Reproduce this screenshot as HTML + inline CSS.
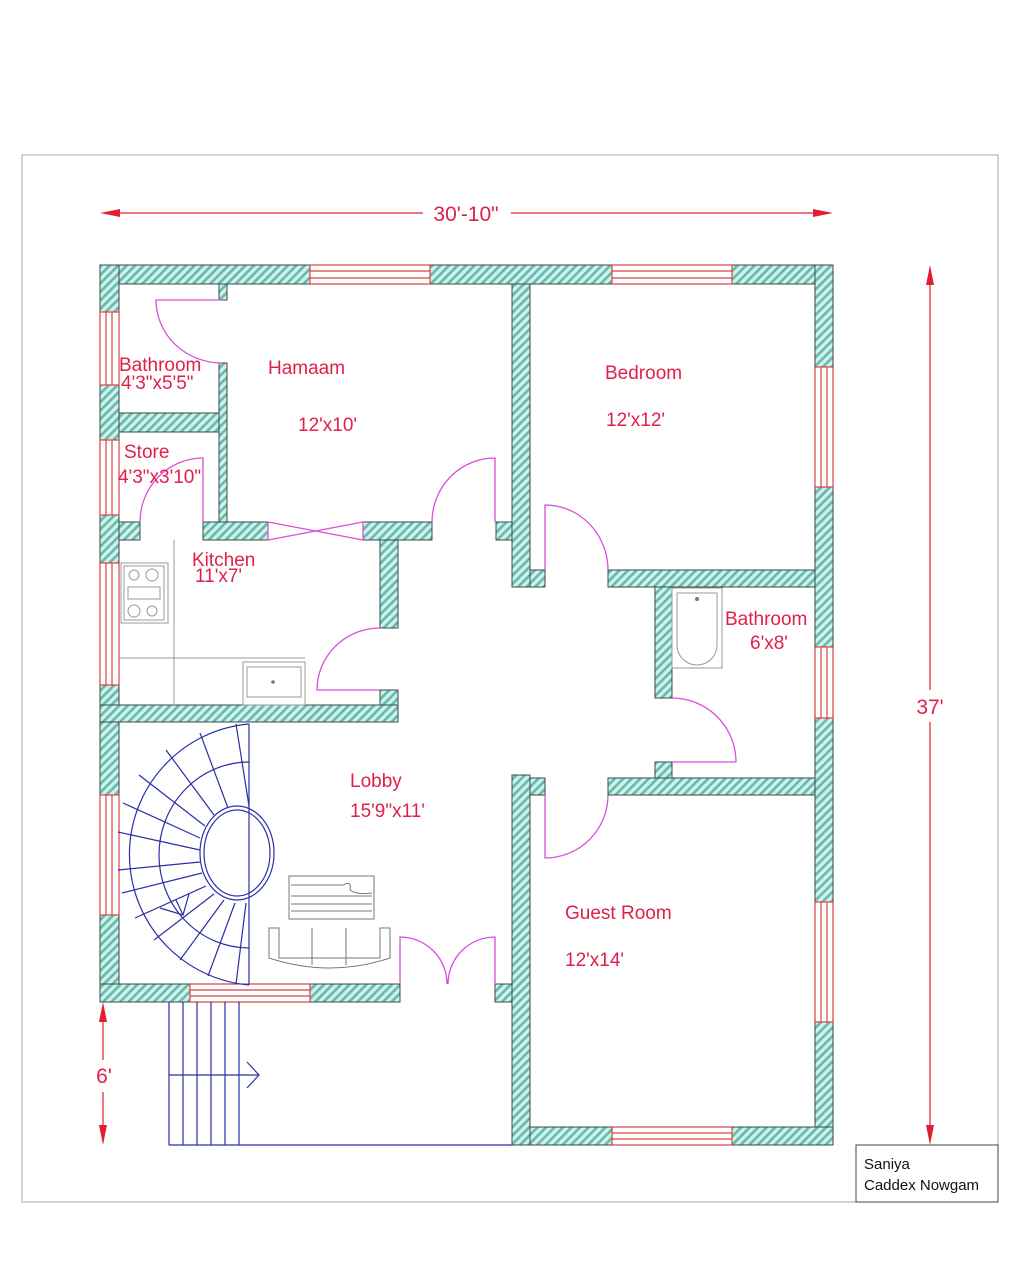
<!DOCTYPE html>
<html><head><meta charset="utf-8"><style>
html,body{margin:0;padding:0;background:#fff;}
svg{display:block;}
text{font-family:"Liberation Sans",sans-serif;}
</style></head><body>
<svg width="1021" height="1280" viewBox="0 0 1021 1280" xmlns="http://www.w3.org/2000/svg">
<defs>
<pattern id="h" width="6" height="6" patternUnits="userSpaceOnUse" patternTransform="rotate(45)">
<rect width="6" height="6" fill="#d4efea"/>
<rect width="2.6" height="6" fill="#5fbcae"/>
</pattern>
<marker id="ar" markerWidth="14" markerHeight="8" refX="13" refY="4" orient="auto" markerUnits="userSpaceOnUse">
<path d="M0,0 L14,4 L0,8 Z" fill="#e02030"/>
</marker>
</defs>
<rect x="0" y="0" width="1021" height="1280" fill="#fff"/>
<rect x="22" y="155" width="976" height="1047" fill="none" stroke="#aaa" stroke-width="1"/>

<!-- walls -->
<g fill="url(#h)" stroke="#3a4a48" stroke-width="1">
<!-- top -->
<rect x="100" y="265" width="210" height="19"/>
<rect x="430" y="265" width="182" height="19"/>
<rect x="732" y="265" width="101" height="19"/>
<!-- left -->
<rect x="100" y="265" width="19" height="47"/>
<rect x="100" y="385" width="19" height="55"/>
<rect x="100" y="515" width="19" height="48"/>
<rect x="100" y="685" width="19" height="110"/>
<rect x="100" y="915" width="19" height="87"/>
<!-- right -->
<rect x="815" y="265" width="18" height="102"/>
<rect x="815" y="487" width="18" height="160"/>
<rect x="815" y="718" width="18" height="184"/>
<rect x="815" y="1022" width="18" height="123"/>
<!-- bottom guest -->
<rect x="512" y="1127" width="100" height="18"/>
<rect x="732" y="1127" width="101" height="18"/>
<!-- lower left bottom -->
<rect x="100" y="984" width="90" height="18"/>
<rect x="310" y="984" width="90" height="18"/>
<rect x="495" y="984" width="17" height="18"/>
<!-- guest left wall -->
<rect x="512" y="775" width="18" height="370"/>
<!-- central wall -->
<rect x="512" y="284" width="18" height="303"/>
<rect x="496" y="522" width="16" height="18"/>
<!-- bedroom bottom -->
<rect x="530" y="570" width="15" height="17"/>
<rect x="608" y="570" width="207" height="17"/>
<!-- bath left -->
<rect x="655" y="587" width="17" height="111"/>
<rect x="655" y="762" width="17" height="16"/>
<!-- bath bottom -->
<rect x="608" y="778" width="207" height="17"/>
<rect x="530" y="778" width="15" height="17"/>
<!-- hamaam left -->
<rect x="219" y="284" width="8" height="16"/>
<rect x="219" y="363" width="8" height="159"/>
<!-- bath bottom left -->
<rect x="119" y="413" width="100" height="19"/>
<!-- kitchen top -->
<rect x="119" y="522" width="21" height="18"/>
<rect x="203" y="522" width="65" height="18"/>
<rect x="363" y="522" width="69" height="18"/>
<!-- kitchen right -->
<rect x="380" y="540" width="18" height="88"/>
<rect x="380" y="690" width="18" height="32"/>
<!-- kitchen bottom -->
<rect x="100" y="705" width="298" height="17"/>
</g>

<!-- windows -->
<g fill="#fff" stroke="#d84040" stroke-width="1.2">
<rect x="310" y="265" width="120" height="19"/><line x1="310" y1="271" x2="430" y2="271"/><line x1="310" y1="278" x2="430" y2="278"/>
<rect x="612" y="265" width="120" height="19"/><line x1="612" y1="271" x2="732" y2="271"/><line x1="612" y1="278" x2="732" y2="278"/>
<rect x="612" y="1127" width="120" height="18"/><line x1="612" y1="1133" x2="732" y2="1133"/><line x1="612" y1="1139" x2="732" y2="1139"/>
<rect x="190" y="984" width="120" height="18"/><line x1="190" y1="990" x2="310" y2="990"/><line x1="190" y1="996" x2="310" y2="996"/>
<rect x="100" y="312" width="19" height="73"/><line x1="106" y1="312" x2="106" y2="385"/><line x1="112" y1="312" x2="112" y2="385"/>
<rect x="100" y="440" width="19" height="75"/><line x1="106" y1="440" x2="106" y2="515"/><line x1="112" y1="440" x2="112" y2="515"/>
<rect x="100" y="563" width="19" height="122"/><line x1="106" y1="563" x2="106" y2="685"/><line x1="112" y1="563" x2="112" y2="685"/>
<rect x="100" y="795" width="19" height="120"/><line x1="106" y1="795" x2="106" y2="915"/><line x1="112" y1="795" x2="112" y2="915"/>
<rect x="815" y="367" width="18" height="120"/><line x1="821" y1="367" x2="821" y2="487"/><line x1="827" y1="367" x2="827" y2="487"/>
<rect x="815" y="647" width="18" height="71"/><line x1="821" y1="647" x2="821" y2="718"/><line x1="827" y1="647" x2="827" y2="718"/>
<rect x="815" y="902" width="18" height="120"/><line x1="821" y1="902" x2="821" y2="1022"/><line x1="827" y1="902" x2="827" y2="1022"/>
</g>

<!-- doors -->
<g fill="none" stroke="#d94fd9" stroke-width="1.3">
<path d="M222,300 L156,300 A66,63 0 0 0 222,363"/>
<path d="M203,522 L203,458 A63,64 0 0 0 140,522"/>
<path d="M495,522 L495,458 A63,64 0 0 0 432,522"/>
<path d="M268,522 L363,540 M268,540 L363,522"/>
<line x1="268" y1="522" x2="268" y2="540"/><line x1="363" y1="522" x2="363" y2="540"/>
<path d="M380,690 L317,690 A63,62 0 0 1 380,628"/>
<path d="M545,570 L545,505 A63,65 0 0 1 608,570"/>
<path d="M672,698 L672,698 M672,698 A64,64 0 0 1 736,762 L672,762"/>
<path d="M545,795 L545,858 A63,63 0 0 0 608,795"/>
<path d="M400,984 L400,937 A47,47 0 0 1 447,984"/>
<path d="M495,984 L495,937 A47,47 0 0 0 448,984"/>
</g>

<!-- kitchen fixtures -->
<g fill="none" stroke="#999" stroke-width="1">
<line x1="174" y1="540" x2="174" y2="705"/>
<line x1="119" y1="658" x2="305" y2="658"/>
<rect x="243" y="662" width="62" height="43"/>
<rect x="247" y="667" width="54" height="30"/>
<rect x="121" y="563" width="47" height="60"/>
<rect x="124" y="566" width="40" height="54"/>
<circle cx="134" cy="575" r="5"/><circle cx="152" cy="575" r="6"/>
<circle cx="134" cy="611" r="6"/><circle cx="152" cy="611" r="5"/>
<rect x="128" y="587" width="32" height="12"/>
<rect x="672" y="588" width="50" height="80"/>
<path d="M677,593 H717 V645 A20,20 0 0 1 677,645 Z"/>
</g>
<circle cx="273" cy="682" r="1.8" fill="#777"/>
<circle cx="697" cy="599" r="2" fill="#777"/>

<!-- lobby furniture -->
<g fill="none" stroke="#777" stroke-width="1">
<rect x="289" y="876" width="85" height="43"/>
<path d="M291,885 H343 Q352,880 350,890 Q356,895 372,893 M291,896 H372 M291,904 H372 M291,911 H372"/>
<path d="M269,928 H279 V958 H380 V928 H390 V958 Q330,978 269,958 Z"/>
<line x1="312" y1="928" x2="312" y2="965"/><line x1="346" y1="928" x2="346" y2="965"/>
</g>

<!-- spiral stair -->
<g fill="none" stroke="#2b2fa8" stroke-width="1.2">
<path d="M249,724 A131,131 0 0 0 249,985"/>
<line x1="249" y1="724" x2="249" y2="985"/>
<path d="M249,762 A90,93 0 0 0 249,948"/>
<ellipse cx="237" cy="853" rx="37" ry="47"/>
<ellipse cx="237" cy="853" rx="33" ry="43"/>
<g>
<line x1="236" y1="724" x2="249" y2="806"/>
<line x1="200" y1="733" x2="228" y2="808"/>
<line x1="166" y1="750" x2="214" y2="815"/>
<line x1="139" y1="775" x2="205" y2="826"/>
<line x1="123" y1="803" x2="200" y2="838"/>
<line x1="118" y1="832" x2="200" y2="850"/>
<line x1="118" y1="870" x2="200" y2="862"/>
<line x1="122" y1="893" x2="202" y2="873"/>
<line x1="135" y1="918" x2="206" y2="886"/>
<line x1="154" y1="940" x2="214" y2="894"/>
<line x1="180" y1="960" x2="224" y2="900"/>
<line x1="208" y1="976" x2="235" y2="903"/>
<line x1="236" y1="984" x2="246" y2="903"/>
</g>
<path d="M160,908 L183,915 L189,894 M183,915 L176,900"/>
</g>

<!-- entrance stairs -->
<g fill="none" stroke="#2b2fa8" stroke-width="1.2">
<line x1="169" y1="1002" x2="169" y2="1145"/>
<line x1="183" y1="1002" x2="183" y2="1145"/>
<line x1="197" y1="1002" x2="197" y2="1145"/>
<line x1="211" y1="1002" x2="211" y2="1145"/>
<line x1="225" y1="1002" x2="225" y2="1145"/>
<line x1="239" y1="1002" x2="239" y2="1145"/>
<line x1="169" y1="1145" x2="512" y2="1145"/>
<line x1="169" y1="1075" x2="259" y2="1075"/>
<path d="M247,1062 L259,1075 L247,1088"/>
</g>

<!-- dimensions -->
<g stroke="#e02030" stroke-width="1.2">
<line x1="114" y1="213" x2="423" y2="213"/><line x1="511" y1="213" x2="819" y2="213"/>
<line x1="930" y1="279" x2="930" y2="690"/><line x1="930" y1="722" x2="930" y2="1131"/>
<line x1="103" y1="1016" x2="103" y2="1060"/><line x1="103" y1="1092" x2="103" y2="1131"/>
</g>
<g fill="#e02030">
<path d="M100,213 L120,209 L120,217 Z"/><path d="M833,213 L813,209 L813,217 Z"/>
<path d="M930,265 L926,285 L934,285 Z"/><path d="M930,1145 L926,1125 L934,1125 Z"/>
<path d="M103,1002 L99,1022 L107,1022 Z"/><path d="M103,1145 L99,1125 L107,1125 Z"/>
</g>

<g fill="#e0204a" font-size="19">
<text x="466" y="221" text-anchor="middle" font-size="21">30'-10"</text>
<text x="930" y="714" text-anchor="middle" font-size="21">37'</text>
<text x="104" y="1083" text-anchor="middle" font-size="21">6'</text>
<text x="119" y="371">Bathroom</text>
<text x="121" y="389">4'3"x5'5"</text>
<text x="268" y="374">Hamaam</text>
<text x="298" y="431">12'x10'</text>
<text x="124" y="458">Store</text>
<text x="118" y="483">4'3"x3'10"</text>
<text x="192" y="566">Kitchen</text>
<text x="195" y="582">11'x7'</text>
<text x="605" y="379">Bedroom</text>
<text x="606" y="426">12'x12'</text>
<text x="725" y="625">Bathroom</text>
<text x="750" y="649">6'x8'</text>
<text x="350" y="787">Lobby</text>
<text x="350" y="817">15'9"x11'</text>
<text x="565" y="919">Guest Room</text>
<text x="565" y="966">12'x14'</text>
</g>

<rect x="856" y="1145" width="142" height="57" fill="#fff" stroke="#444" stroke-width="1"/>
<text x="864" y="1169" font-size="15" fill="#111">Saniya</text>
<text x="864" y="1190" font-size="15" fill="#111">Caddex Nowgam</text>
</svg>
</body></html>
